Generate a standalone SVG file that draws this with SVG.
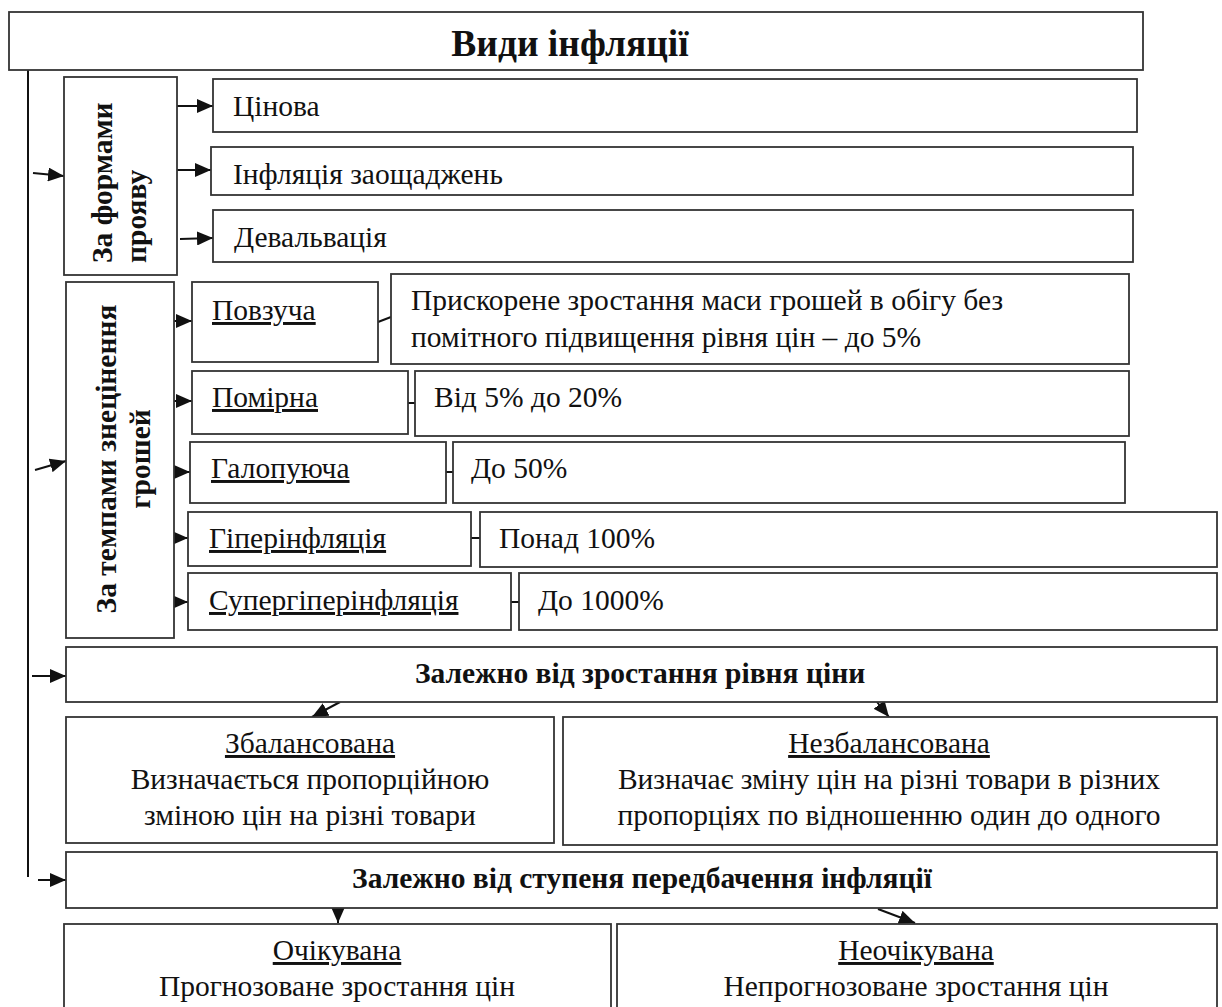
<svg xmlns="http://www.w3.org/2000/svg" width="1222" height="1007" viewBox="0 0 1222 1007">
<style>
.b{fill:#fff;stroke:#333;stroke-width:1.8}
.t{font-family:"Liberation Serif","Times New Roman",serif;font-size:29.5px;fill:#111}
.h{font-family:"Liberation Serif","Times New Roman",serif;font-size:29.5px;font-weight:bold;fill:#111}
.u{text-decoration:underline}
.c{text-anchor:middle}
.l{stroke:#111;stroke-width:2;fill:none}
</style>
<defs>
<marker id="ah" viewBox="0 0 16 14" refX="16" refY="7" markerWidth="16" markerHeight="14" markerUnits="userSpaceOnUse" orient="auto"><path d="M0,0 L16,7 L0,14 z" fill="#111"/></marker>
</defs>
<rect width="1222" height="1007" fill="#fff"/>
<g id="connectors">
<line class="l" x1="28" y1="70" x2="28" y2="877"/>
<line class="l" x1="33" y1="173" x2="64" y2="176" marker-end="url(#ah)"/>
<line class="l" x1="35" y1="470" x2="66" y2="461" marker-end="url(#ah)"/>
<line class="l" x1="32" y1="676" x2="66" y2="676" marker-end="url(#ah)"/>
<line class="l" x1="38" y1="880" x2="66" y2="880" marker-end="url(#ah)"/>
<line class="l" x1="176" y1="106" x2="213" y2="106" marker-end="url(#ah)"/>
<line class="l" x1="176" y1="170" x2="211" y2="170" marker-end="url(#ah)"/>
<line class="l" x1="180" y1="239" x2="213" y2="238" marker-end="url(#ah)"/>
<line class="l" x1="172" y1="321" x2="192" y2="321" marker-end="url(#ah)"/>
<line class="l" x1="172" y1="401" x2="192" y2="401" marker-end="url(#ah)"/>
<line class="l" x1="172" y1="472" x2="190" y2="472" marker-end="url(#ah)"/>
<line class="l" x1="172" y1="538" x2="188" y2="538" marker-end="url(#ah)"/>
<line class="l" x1="172" y1="602" x2="188" y2="602" marker-end="url(#ah)"/>
<line class="l" x1="378" y1="322" x2="391" y2="317" stroke-width="1.5"/>
<line class="l" x1="408" y1="403" x2="415" y2="403" stroke-width="1.5"/>
<line class="l" x1="446" y1="472" x2="453" y2="472" stroke-width="1.5"/>
<line class="l" x1="471" y1="538" x2="480" y2="538" stroke-width="1.5"/>
<line class="l" x1="511" y1="602" x2="519" y2="602" stroke-width="1.5"/>
<line class="l" x1="340" y1="702" x2="312" y2="717" marker-end="url(#ah)"/>
<line class="l" x1="877" y1="702" x2="889" y2="717" marker-end="url(#ah)"/>
<line class="l" x1="338" y1="908" x2="338" y2="923" marker-end="url(#ah)"/>
<line class="l" x1="878" y1="909" x2="915" y2="923" marker-end="url(#ah)"/>
</g>
<g id="title"><rect class="b" x="9" y="12" width="1134" height="58"/><text class="h c" x="570" y="56" style="font-size:37.5px">Види інфляції</text></g>
<g id="forms"><rect class="b" x="64" y="77" width="113" height="198"/>
<text class="h" transform="translate(112,263) rotate(-90)">За формами</text>
<text class="h" transform="translate(146,263) rotate(-90)">прояву</text></g>
<g id="cinova"><rect class="b" x="213" y="79" width="924" height="53"/><text class="t" x="233" y="116">Цінова</text></g>
<g id="zaoshch"><rect class="b" x="211" y="147" width="922" height="48"/><text class="t" x="233" y="184">Інфляція заощаджень</text></g>
<g id="deval"><rect class="b" x="213" y="210" width="920" height="52"/><text class="t" x="234" y="247">Девальвація</text></g>
<g id="tempy"><rect class="b" x="66" y="282" width="108" height="356"/>
<text class="h c" transform="translate(116,459) rotate(-90)">За темпами знецінення</text>
<text class="h c" transform="translate(150,459) rotate(-90)">грошей</text></g>
<g id="povzucha"><rect class="b" x="192" y="282" width="186" height="80"/><text class="t u" x="212" y="320">Повзуча</text></g>
<g id="povzucha-d"><rect class="b" x="391" y="274" width="738" height="90"/><text class="t" x="411" y="310">Прискорене зростання маси грошей в обігу без</text><text class="t" x="411" y="347">помітного підвищення рівня цін – до 5%</text></g>
<g id="pomirna"><rect class="b" x="192" y="371" width="216" height="63"/><text class="t u" x="212" y="407">Помірна</text></g>
<g id="pomirna-d"><rect class="b" x="415" y="371" width="714" height="65"/><text class="t" x="434" y="407">Від 5% до 20%</text></g>
<g id="galop"><rect class="b" x="190" y="442" width="256" height="61"/><text class="t u" x="211" y="478">Галопуюча</text></g>
<g id="galop-d"><rect class="b" x="453" y="442" width="672" height="61"/><text class="t" x="471" y="478">До 50%</text></g>
<g id="hyper"><rect class="b" x="188" y="512" width="283" height="54"/><text class="t u" x="209" y="548">Гіперінфляція</text></g>
<g id="hyper-d"><rect class="b" x="480" y="512" width="737" height="55"/><text class="t" x="499" y="548">Понад 100%</text></g>
<g id="super"><rect class="b" x="188" y="573" width="323" height="57"/><text class="t u" x="209" y="610">Супергіперінфляція</text></g>
<g id="super-d"><rect class="b" x="519" y="573" width="698" height="57"/><text class="t" x="538" y="610">До 1000%</text></g>
<g id="price"><rect class="b" x="66" y="647" width="1151" height="55"/><text class="h c" x="640" y="683">Залежно від зростання рівня ціни</text></g>
<g id="balanced"><rect class="b" x="66" y="717" width="488" height="126"/>
<text class="t c u" x="310" y="753">Збалансована</text><text class="t c" x="310" y="789">Визначається пропорційною</text><text class="t c" x="310" y="825">зміною цін на різні товари</text></g>
<g id="unbalanced"><rect class="b" x="563" y="717" width="654" height="128"/>
<text class="t c u" x="889" y="753">Незбалансована</text><text class="t c" x="889" y="789">Визначає зміну цін на різні товари в різних</text><text class="t c" x="889" y="825">пропорціях по відношенню один до одного</text></g>
<g id="expect"><rect class="b" x="66" y="852" width="1151" height="56"/><text class="h c" x="642" y="888">Залежно від ступеня передбачення інфляції</text></g>
<g id="expected"><rect class="b" x="64" y="924" width="547" height="100"/><text class="t c u" x="337" y="960">Очікувана</text><text class="t c" x="337" y="996">Прогнозоване зростання цін</text></g>
<g id="unexpected"><rect class="b" x="617" y="924" width="600" height="100"/><text class="t c u" x="916" y="960">Неочікувана</text><text class="t c" x="916" y="996">Непрогнозоване зростання цін</text></g>
</svg>
